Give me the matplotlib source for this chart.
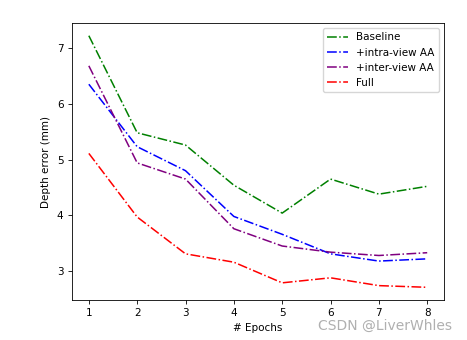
import matplotlib
matplotlib.use("Agg")
import matplotlib.pyplot as plt

epochs = [1, 2, 3, 4, 5, 6, 7, 8]
baseline = [7.22, 5.48, 5.26, 4.54, 4.04, 4.65, 4.38, 4.52]
intra_view = [6.35, 5.23, 4.80, 3.98, 3.66, 3.31, 3.18, 3.22]
inter_view = [6.68, 4.94, 4.65, 3.76, 3.45, 3.34, 3.28, 3.33]
full = [5.11, 3.97, 3.31, 3.16, 2.79, 2.88, 2.74, 2.71]


def main():
    fig = plt.figure(figsize=(4.67, 3.4), dpi=100)
    ax = fig.add_axes([0.154, 0.118, 0.797, 0.814])

    ax.plot(epochs, baseline, '-.', color='g', lw=1.1, label='Baseline')
    ax.plot(epochs, intra_view, '-.', color='b', lw=1.1, label='+intra-view AA')
    ax.plot(epochs, inter_view, '-.', color='purple', lw=1.1, label='+inter-view AA')
    ax.plot(epochs, full, '-.', color='r', lw=1.1, label='Full')

    ax.set_xlabel('# Epochs', fontsize=7.5, labelpad=3)
    ax.set_ylabel('Depth error (mm)', fontsize=7.5)
    ax.tick_params(labelsize=7.5, width=0.6, length=2.6)
    for s in ax.spines.values():
        s.set_linewidth(0.6)
    ax.legend(loc='upper right', fontsize=7.5)

    # watermark
    fig.text(0.968, 0.02, 'CSDN @LiverWhles', fontsize=10, color='#b0b0b0',
             ha='right', va='bottom')

    fig.savefig('out.png', dpi=100)


if __name__ == "__main__":
    main()
